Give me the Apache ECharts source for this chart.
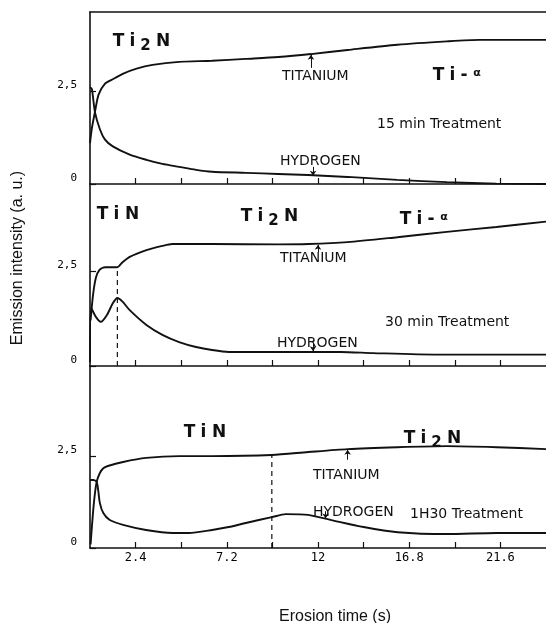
<!DOCTYPE html>
<html>
<head>
<meta charset="utf-8">
<script src="https://cdn.jsdelivr.net/npm/echarts@6/dist/echarts.min.js"></script>
<style>
  html, body { margin: 0; padding: 0; background: #fff; }
  #main { width: 546px; height: 623px; }
</style>
</head>
<body>
<div id="main"></div>
<script>
// erosion time ticks (s)
const xTicks = [2.4, 4.8, 7.2, 9.6, 12, 14.4, 16.8, 19.2, 21.6];
const xTickLabels = [2.4, 7.2, 12, 16.8, 21.6];
const yTickValues = [0, 2.5];

// 15 min treatment  [time, intensity]
const ti15 = [[0,1.1],[0.1,1.5],[0.26,1.93],[0.45,2.4],[0.78,2.69],[1.15,2.8],[1.72,2.96],[2.45,3.1],[3.29,3.2],[4.69,3.28],[6.42,3.31],[8.19,3.36],[9.91,3.41],[11.63,3.49],[13.56,3.6],[16.17,3.74],[18.78,3.83],[20.5,3.87],[24,3.87]];
const h15 = [[0,2.6],[0.1,2.55],[0.26,1.93],[0.52,1.47],[0.78,1.2],[1.2,1.01],[2.09,0.79],[2.97,0.65],[3.81,0.54],[4.69,0.46],[5.58,0.38],[6.42,0.33],[8.19,0.3],[9.91,0.27],[11.48,0.24],[13.56,0.19],[16.17,0.11],[18.78,0.05],[21.39,0.01],[24,0]];

// 30 min treatment
const ti30 = [[0.03,1.2],[0.16,1.87],[0.31,2.32],[0.5,2.53],[0.8,2.6],[1.44,2.6],[1.67,2.71],[2.09,2.87],[2.97,3.05],[3.81,3.16],[4.33,3.21],[6.42,3.21],[9.91,3.2],[11.5,3.21],[13.56,3.26],[16.17,3.39],[18.78,3.53],[21.39,3.66],[24,3.8]];
const h30 = [[0,0.1],[0.06,1.53],[0.3,1.3],[0.57,1.16],[0.9,1.35],[1.2,1.65],[1.44,1.79],[1.7,1.7],[2.09,1.47],[2.97,1.08],[3.81,0.82],[4.69,0.63],[5.58,0.5],[6.42,0.42],[7.3,0.37],[9,0.37],[11.5,0.37],[13.2,0.37],[14.9,0.34],[18.3,0.3],[24,0.3]];
const dash30 = [[1.44,0],[1.44,2.6]];

// 1H30 treatment
const ti90 = [[0.03,0.1],[0.2,1.2],[0.35,1.8],[0.52,2.04],[0.7,2.17],[0.94,2.23],[1.74,2.34],[2.95,2.45],[4.7,2.5],[6.4,2.5],[9.57,2.53],[11.48,2.61],[13.56,2.69],[16.17,2.74],[18.78,2.77],[21.4,2.74],[24,2.69]];
const h90 = [[0,1.85],[0.17,1.85],[0.35,1.8],[0.43,1.58],[0.52,1.22],[0.7,0.95],[1.04,0.76],[1.74,0.63],[2.95,0.49],[4.35,0.41],[5.2,0.41],[6.43,0.49],[7.3,0.57],[8.2,0.68],[9.57,0.84],[10.3,0.92],[11.48,0.9],[12.7,0.76],[14.4,0.57],[16.2,0.43],[18.8,0.38],[21.4,0.41],[24,0.41]];
const dash90 = [[9.57,0],[9.57,2.53]];

// little pointer arrows  [time, from, to]
const arrows = [
  [[11.63,3.12,3.47],[11.74,0.46,0.22]],
  [[12.0,3.0,3.19],[11.74,0.62,0.39]],
  [[13.56,2.4,2.67],[12.4,1.0,0.8]]
];

const ink = '#111';
const chart = echarts.init(document.getElementById('main'));

const grids = [
  {left:90, top:12, width:460, height:172},
  {left:90, top:184, width:460, height:182},
  {left:90, top:366, width:460, height:182}
];
const yMax = [4.62, 4.79, 4.95];

let xAxes = grids.map(function(g, i){
  return {
    gridIndex:i, type:'value', min:0, max:24,
    axisLine:{show:true, onZero:false, lineStyle:{color:ink, width:1.6}},
    axisTick:{show:true, inside:true, length:6, customValues:xTicks, lineStyle:{color:ink, width:1.2}},
    axisLabel:{show:i===2, customValues:xTickLabels, margin:4, color:'#000',
      fontFamily:'DejaVu Sans Mono', fontSize:12,
      formatter:function(v){ return String(v); }},
    splitLine:{show:false}
  };
});
xAxes.push({gridIndex:0, type:'value', min:0, max:24, position:'top',
  axisLine:{show:true, onZero:false, lineStyle:{color:ink, width:1.6}},
  axisTick:{show:false}, axisLabel:{show:false}, splitLine:{show:false}});

const yAxes = grids.map(function(g, i){
  return {
    gridIndex:i, type:'value', min:0, max:yMax[i],
    axisLine:{show:true, lineStyle:{color:ink, width:1.6}},
    axisTick:{show:true, inside:true, length:6, customValues:yTickValues, lineStyle:{color:ink, width:1.2}},
    axisLabel:{customValues:yTickValues, margin:13, color:'#000', verticalAlign:'bottom',
      fontFamily:'DejaVu Sans Mono', fontSize:11,
      formatter:function(v){ return String(v).replace('.', ','); }},
    splitLine:{show:false}
  };
});

function curve(data, i, arrow){
  const s = {
    type:'line', xAxisIndex:i, yAxisIndex:i, data:data, smooth:0.25,
    symbol:'none', lineStyle:{color:ink, width:1.9}
  };
  if (arrow) {
    s.markLine = {
      silent:true, symbol:['none','arrow'], symbolSize:5,
      label:{show:false}, lineStyle:{color:ink, width:1, type:'solid'},
      data:[[{coord:[arrow[0], arrow[1]]}, {coord:[arrow[0], arrow[2]]}]]
    };
  }
  return s;
}
function dashed(data, i){
  return {type:'line', xAxisIndex:i, yAxisIndex:i, data:data, symbol:'none',
    lineStyle:{color:ink, width:1.2, type:[5,4]}};
}

const series = [
  curve(ti15, 0, arrows[0][0]), curve(h15, 0, arrows[0][1]),
  curve(ti30, 1, arrows[1][0]), curve(h30, 1, arrows[1][1]), dashed(dash30, 1),
  curve(ti90, 2, arrows[2][0]), curve(h90, 2, arrows[2][1]), dashed(dash90, 2)
];

const phaseFont = {fontFamily:'DejaVu Sans', fontWeight:'bold', color:ink, align:'center'};
const richStyles = {
  T:Object.assign({fontSize:17, width:17}, phaseFont),
  i:Object.assign({fontSize:17, width:11}, phaseFont),
  N:Object.assign({fontSize:17, width:20}, phaseFont),
  s:Object.assign({fontSize:15, width:15, padding:[9,0,0,0]}, phaseFont),
  d:Object.assign({fontSize:17, width:12}, phaseFont),
  a:Object.assign({fontSize:11, width:14, padding:[0,0,6,0]}, phaseFont)
};
function phase(text, x, y){
  return {type:'text', x:x, y:y, silent:true,
    style:{text:text, rich:richStyles, verticalAlign:'middle', fill:ink}};
}
function note(text, x, y, size){
  return {type:'text', x:x, y:y, silent:true,
    style:{text:text, fontFamily:'DejaVu Sans', fontSize:size || 14, fill:ink, verticalAlign:'middle'}};
}
const TI2N = '{T|T}{i|i}{s|2}{N|N}';
const TIN = '{T|T}{i|i}{N|N}';
const TIA = '{T|T}{i|i}{d|-}{a|α}';

chart.setOption({
  animation:false,
  backgroundColor:'#fff',
  grid:grids,
  xAxis:xAxes,
  yAxis:yAxes,
  series:series,
  graphic:[
    phase(TI2N, 110, 42), note('TITANIUM', 282, 76), phase(TIA, 430, 76),
    note('15 min Treatment', 377, 124), note('HYDROGEN', 280, 161),
    phase(TIN, 94, 215), phase(TI2N, 238, 217), phase(TIA, 397, 220),
    note('TITANIUM', 280, 258), note('30 min Treatment', 385, 322), note('HYDROGEN', 277, 343),
    phase(TIN, 181, 433), phase(TI2N, 401, 439),
    note('TITANIUM', 313, 475), note('HYDROGEN', 313, 512), note('1H30 Treatment', 410, 514),
    {type:'text', x:18, y:258, rotation:Math.PI/2, silent:true,
      style:{text:'Emission intensity (a. u.)', fontFamily:'Liberation Sans', fontSize:16,
        fill:ink, align:'center', verticalAlign:'middle'}},
    {type:'text', x:335, y:617, silent:true,
      style:{text:'Erosion time (s)', fontFamily:'Liberation Sans', fontSize:16,
        fill:ink, align:'center', verticalAlign:'middle'}}
  ]
});
</script>
</body>
</html>
